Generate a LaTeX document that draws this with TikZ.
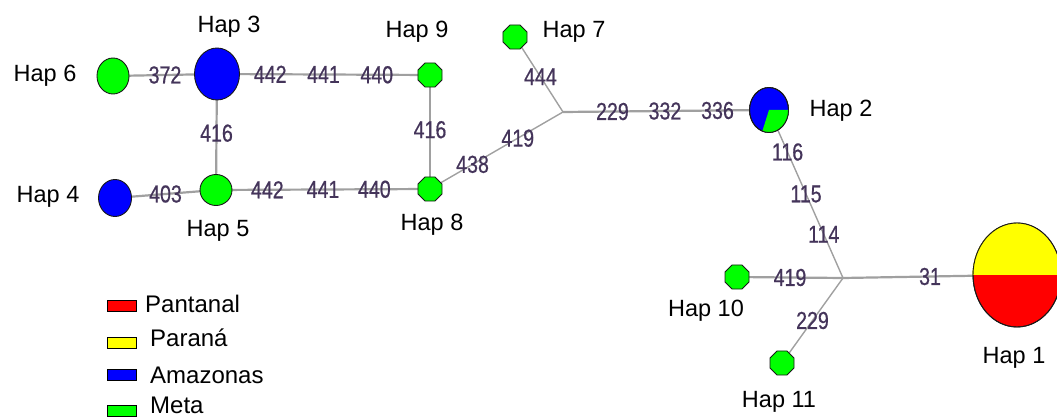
\documentclass[tikz,border=0pt]{standalone}
\usepackage{fontspec}
\setmainfont{Liberation Sans}
\newfontfamily\lblfont[FakeStretch=0.8,FakeBold=0.6]{Liberation Sans}
\usetikzlibrary{shapes.geometric}
\pgfdeclarelayer{bg}
\pgfsetlayers{bg,main}
\definecolor{metagreen}{RGB}{0,255,0}
\definecolor{amzblue}{RGB}{0,0,255}
\definecolor{parayellow}{RGB}{255,255,0}
\definecolor{pantred}{RGB}{255,0,0}
\definecolor{edgegray}{RGB}{160,160,160}
\definecolor{lblcol}{RGB}{68,52,90}
\tikzset{
  hapnode/.style={ellipse, draw=black!90, line width=0.9pt, inner sep=0pt},
  smallhap/.style={regular polygon, regular polygon sides=8, draw=black!90, line width=0.9pt, inner sep=0pt, minimum size=26pt, fill=metagreen},
  link/.style={draw=edgegray, line width=2.2pt},
  thinlink/.style={draw=edgegray, line width=1.4pt},
  mut/.style={font=\lblfont\fontsize{24.5}{25}\selectfont, text=lblcol, inner sep=0pt},
  hapname/.style={font=\fontsize{23.5}{24}\selectfont, inner sep=0pt, anchor=base},
  legbox/.style={draw=black, line width=0.8pt, minimum width=29pt, minimum height=11pt, inner sep=0pt},
  legtext/.style={font=\fontsize{24}{24}\selectfont, anchor=base west, inner sep=0pt},
  outline/.style={draw=black!90, line width=0.9pt}
}
\begin{document}
\begin{tikzpicture}[x=1pt,y=1pt]
\useasboundingbox (0,0) rectangle (1057,-419);
\clip (0,0) rectangle (1057,-419);

% haplotype nodes
\node[hapnode, fill=metagreen, minimum width=32pt, minimum height=36pt] (h6) at (113,-76) {};
\node[hapnode, fill=amzblue, minimum width=45pt, minimum height=52pt] (h3) at (217,-74) {};
\node[smallhap] (h9) at (430,-75) {};
\node[hapnode, fill=metagreen, minimum width=32pt, minimum height=31pt] (h5) at (216,-190) {};
\node[hapnode, fill=amzblue, minimum width=33pt, minimum height=37pt] (h4) at (115,-198) {};
\node[smallhap] (h8) at (430,-189) {};
\node[smallhap] (h7) at (515,-37) {};
\coordinate (j1) at (563,-112);
\node[hapnode, fill=amzblue, minimum width=39pt, minimum height=45pt] (h2) at (769,-110) {};
\fill[metagreen] (h2.center) -- ++(-110:19.5 and 22.5) arc[start angle=-110, end angle=0, x radius=19.5, y radius=22.5] -- cycle;
\draw[outline] (h2.center) ellipse[x radius=19.5, y radius=22.5];
\coordinate (j2) at (843,-278);
\node[smallhap] (h10) at (737,-277) {};
\node[smallhap] (h11) at (782,-363) {};
\node[hapnode, fill=pantred, minimum width=88pt, minimum height=104pt] (h1) at (1017,-275) {};
\fill[parayellow] (h1.west) arc[start angle=180, end angle=0, x radius=44, y radius=52] -- cycle;
\draw[outline] (h1.center) ellipse[x radius=44, y radius=52];

% connectors with mutation labels
\begin{pgfonlayer}{bg}
\draw[link] (h6.center) -- node[mut, pos=0.5]{372} (h3.center);
\draw[link] (h3.center) -- node[mut, pos=0.25]{442} node[mut, pos=0.5]{441} node[mut, pos=0.75]{440} (h9.center);
\draw[link] (h3.center) -- node[mut, pos=0.51]{416} (h5.center);
\draw[link] (h9.center) -- node[mut, pos=0.48]{416} (h8.center);
\draw[link] (h4.center) -- node[mut, pos=0.5]{403} (h5.center);
\draw[link] (h5.center) -- node[mut, pos=0.24]{442} node[mut, pos=0.5]{441} node[mut, pos=0.74]{440} (h8.center);
\draw[thinlink] (h8.center) -- node[mut, pos=0.32]{438} node[mut, pos=0.66]{419} (j1);
\draw[thinlink] (h7.center) -- node[mut, pos=0.53]{444} (j1);
\draw[link] (j1) -- node[mut, pos=0.24]{229} node[mut, pos=0.495]{332} node[mut, pos=0.75]{336} (h2.center);
\draw[thinlink] (h2.center) -- node[mut, pos=0.25]{116} node[mut, pos=0.5]{115} node[mut, pos=0.74]{114} (j2);
\draw[link] (h10.center) -- node[mut, pos=0.5]{419} (j2);
\draw[thinlink] (h11.center) -- node[mut, pos=0.5]{229} (j2);
\draw[link] (j2) -- node[mut, pos=0.5]{31} (h1.center);
\end{pgfonlayer}

% haplotype names
\node[hapname] (t1) at (1014,-363) {Hap 1};
\node[hapname] (t2) at (841,-117) {Hap 2};
\node[hapname] (t3) at (229,-33) {Hap 3};
\node[hapname] (t4) at (48,-203) {Hap 4};
\node[hapname] (t5) at (218,-237) {Hap 5};
\node[hapname] (t6) at (45,-82) {Hap 6};
\node[hapname] (t7) at (574,-38) {Hap 7};
\node[hapname] (t8) at (432,-231) {Hap 8};
\node[hapname] (t9) at (417,-38) {Hap 9};
\node[hapname] (t10) at (706,-317) {Hap 10};
\node[hapname] (t11) at (779,-407) {Hap 11};

% legend
\node[legbox, fill=pantred] (lb1) at (121.5,-306) {};
\node[legbox, fill=parayellow] (lb2) at (121.5,-342.5) {};
\node[legbox, fill=amzblue] (lb3) at (121.5,-375) {};
\node[legbox, fill=metagreen] (lb4) at (121.5,-410.5) {};
\node[legtext] (lt1) at (145,-313) {Pantanal};
\node[legtext] (lt2) at (150,-347) {Paraná};
\node[legtext] (lt3) at (150,-383) {Amazonas};
\node[legtext] (lt4) at (150,-413.5) {Meta};
\end{tikzpicture}
\end{document}
